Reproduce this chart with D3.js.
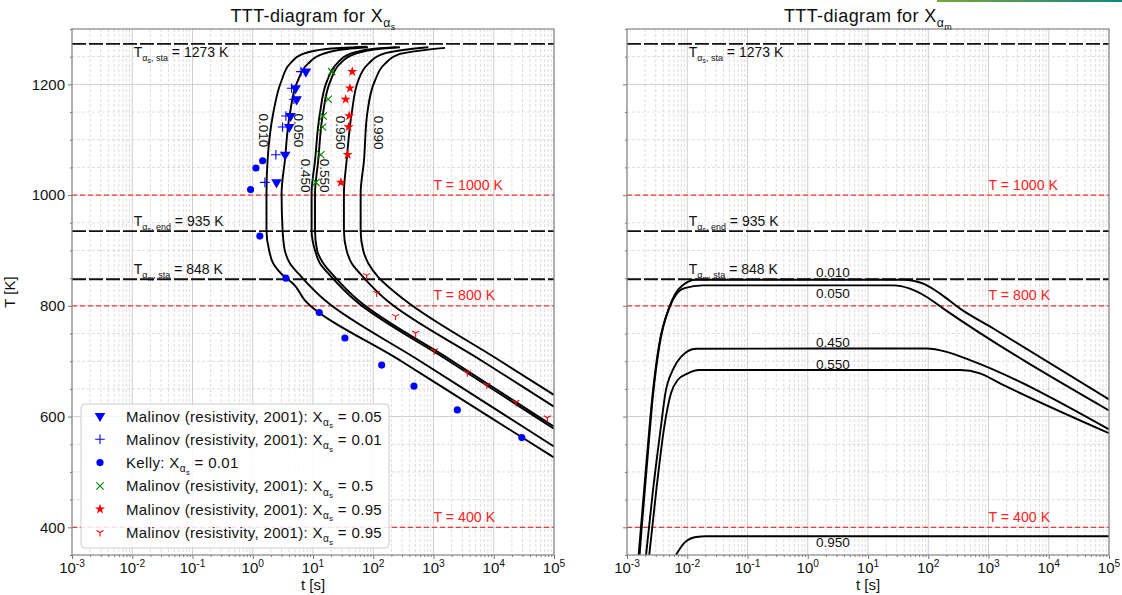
<!DOCTYPE html>
<html><head><meta charset="utf-8">
<script src="https://cdn.jsdelivr.net/npm/d3@7"></script>
<style>body{margin:0;background:#fff}text{font-family:"Liberation Sans",Arial,sans-serif}</style>
</head><body><svg id="c" width="1122" height="595"></svg>
<script>
// ---------- data ----------
const decades = [-3,-2,-1,0,1,2,3,4,5];
const tempTicks = [400,600,800,1000,1200];
const tempMinor = [350,450,500,550,650,700,750,850,900,950,1050,1100,1150,1250,1300];
const levelsLeft = ["0.010","0.050","0.450","0.550","0.950","0.990"];
// left panel curves: [t (s), T (K)]
const s010 = [[77.6,1268],[16.8,1264],[6.79,1255],[4.13,1237],[3.01,1207],[2.18,1147],[1.76,1062],[1.69,1003],[1.69,936],[1.87,900],[2.18,877],[3.41,852],[4.69,840],[7.33,810],[293,700],[8380,600],[1e5,526]];
const s050 = [[81.7,1267],[36.6,1264],[14.6,1255],[8.22,1237],[5.61,1207],[4.13,1147],[3.41,1062],[3.01,1003],[3.13,936],[3.41,900],[4.13,877],[6.47,852],[15.8,810],[605,700],[16700,600],[1e5,546]];
const s450 = [[245,1267],[98.9,1264],[41.0,1255],[24.7,1237],[17.2,1207],[13.0,1147],[10.8,1062],[9.48,1003],[9.48,936],[10.8,900],[13.0,877],[20.4,852],[49.7,810],[1828,700],[48600,600],[1e5,578]];
const s550 = [[278,1267],[121,1264],[49.7,1255],[28.0,1237],[19.6,1207],[14.6,1147],[12.2,1062],[10.8,1003],[10.8,936],[11.7,900],[14.8,877],[23.1,852],[56.4,810],[2080,700],[55300,600],[1e5,582]];
const s950 = [[820,1267],[311,1262],[145,1255],[82.6,1237],[56.4,1207],[43.8,1147],[36.1,1062],[32.6,1003],[32.6,936],[36.1,900],[43.8,877],[68.2,852],[167,810],[6520,700],[34400,650],[1e5,618]];
const s990 = [[1552,1266],[597,1261],[277,1255],[156,1237],[107,1207],[79.4,1147],[70.1,1062],[61.8,1003],[61.8,936],[68.2,900],[82.6,877],[121,852],[337,810],[13100,700],[69300,650],[1e5,639]];
const labelPosLeft = [[1.49,1117],[5.83,1117],[7.54,1035],[15.8,1035],[29.0,1113],[121,1113]];
// right panel curves
const levelsRight = ["0.010","0.050","0.450","0.550","0.950"];
const m010 = [[0.00156,350],[0.00171,402],[0.00212,522],[0.00267,642],[0.00344,732],[0.00504,798],[0.00634,822],[0.00839,837],[0.0140,847],[38.5,847],[82.8,840],[157,822],[337,795],[1202,759],[1e5,631]];
const m050 = [[0.00162,350],[0.00176,402],[0.00218,522],[0.00272,642],[0.00350,732],[0.00512,798],[0.00650,820],[0.00900,832],[0.0180,837],[26.3,837],[49.8,831],[94.2,816],[178,795],[1e5,611]];
const m450 = [[0.00207,350],[0.00267,462],[0.00366,582],[0.00433,642],[0.00573,684],[0.00787,708],[0.0140,722.5],[94.2,723],[202,717],[493,702],[1e5,577]];
const m550 = [[0.00234,350],[0.00303,462],[0.00416,582],[0.00537,642],[0.00693,666],[0.0102,678],[0.0158,684],[337,684],[723,678],[1552,660],[1e5,570]];
const m950 = [[0.0065,350],[0.00893,372],[0.0140,382.6],[0.0205,384],[1e5,384]];
const labelPosRight = [[2.62,861],[2.62,823],[2.62,733],[2.62,694],[2.62,372]];
// experimental points
const malinov005 = [[7.62,1223],[5.14,1193],[5.35,1173],[4.25,1143],[4.03,1123],[3.45,1073],[2.48,1023]];
const malinov001 = [[6.30,1223],[4.42,1193],[4.82,1173],[3.55,1143],[3.13,1123],[2.42,1073],[1.59,1023]];
const kelly001 = [[1.46,1062],[1.13,1049],[0.92,1010],[1.31,926],[3.55,850],[12.7,788],[33.9,742],[138,693],[474,655],[2483,612],[29200,562]];
const malinov05 = [[20.4,1223],[17.9,1173],[14.8,1143],[14.4,1123],[13.5,1073],[11.2,1023]];
const malinov095 = [[44.8,1223],[41.0,1193],[34.8,1173],[39.9,1143],[39.0,1123],[37.6,1073],[29.0,1023]];
const malinov095b = [[77.6,855],[114,823],[235,781],[506,751],[1030,719],[3640,679],[7660,657],[23200,626],[77600,598]];
const legendNames = ["Malinov (resistivity, 2001): X","Malinov (resistivity, 2001): X","Kelly: X","Malinov (resistivity, 2001): X","Malinov (resistivity, 2001): X","Malinov (resistivity, 2001): X"];
const legendValues = [" = 0.05"," = 0.01"," = 0.01"," = 0.5"," = 0.95"," = 0.95"];
// reference lines
const blackLines = [1273, 935, 848];
const blackLineSub = [["s",", sta"],["s",", end"],["m",", sta"]];
const blackLineVal = [" = 1273 K"," = 935 K"," = 848 K"];
const redLines = [1000, 800, 400];
const redLineText = ["T = 1000 K","T = 800 K","T = 400 K"];

// ---------- layout ----------
const svg = d3.select("#c");
svg.append("rect").attr("width",1122).attr("height",595).attr("fill","#fff");
const pTop = 29, pBottom = 555;
const y = d3.scaleLinear().domain([350,1300]).range([pBottom,pTop]);
const xL = d3.scaleLog().domain([1e-3,1e5]).range([72,554]);
const xR = d3.scaleLog().domain([1e-3,1e5]).range([627,1109]);

// decorative top-right bar
const defs = svg.append("defs");
const gr = defs.append("linearGradient").attr("id","gbar");
gr.append("stop").attr("offset","0").attr("stop-color","#7aa53a");
gr.append("stop").attr("offset","1").attr("stop-color","#0f8780");
svg.append("rect").attr("x",937).attr("y",0).attr("width",185).attr("height",2).attr("fill","url(#gbar)");

function rich(t, parts, base, subF){
  const f = subF || 0.68;
  const off = {0:0,1:0.28*base,2:0.45*base,"-1":-0.42*base};
  const sz = {0:base,1:base*f,2:base*0.5,"-1":base*0.68};
  let prev = 0;
  parts.forEach(([s,l])=>{
    t.append("tspan").attr("dy",(off[l]-off[prev]).toFixed(2)).attr("font-size",sz[l]).text(s);
    prev = l;
  });
  return t;
}

const minorT = [];
decades.slice(0,-1).forEach(d=>{ for(let k=2;k<10;k++) minorT.push(k*Math.pow(10,d)); });
const majorT = decades.map(d=>Math.pow(10,d));

function panel(x, id, titleSub, curves, levels, labelPos, rotateLabels, showY, curveType){
  const g = svg.append("g");
  const [x0,x1] = x.range();
  defs.append("clipPath").attr("id",id).append("rect").attr("x",x0).attr("y",pTop).attr("width",x1-x0).attr("height",pBottom-pTop);
  // grid
  g.selectAll(".gmx").data(minorT).join("line").attr("x1",d=>x(d)).attr("x2",d=>x(d)).attr("y1",pTop).attr("y2",pBottom)
    .attr("stroke","#d4d4d4").attr("stroke-width",0.8).attr("stroke-dasharray","3,2");
  g.selectAll(".gmy").data(tempMinor).join("line").attr("x1",x0).attr("x2",x1).attr("y1",d=>y(d)).attr("y2",d=>y(d))
    .attr("stroke","#d4d4d4").attr("stroke-width",0.8).attr("stroke-dasharray","3,2");
  g.selectAll(".gMx").data(majorT).join("line").attr("x1",d=>x(d)).attr("x2",d=>x(d)).attr("y1",pTop).attr("y2",pBottom)
    .attr("stroke","#cfcfcf").attr("stroke-width",1);
  g.selectAll(".gMy").data(tempTicks).join("line").attr("x1",x0).attr("x2",x1).attr("y1",d=>y(d)).attr("y2",d=>y(d))
    .attr("stroke","#cfcfcf").attr("stroke-width",1);
  // red lines
  g.selectAll(".rl").data(redLines).join("line").attr("x1",x0).attr("x2",x1).attr("y1",d=>y(d)).attr("y2",d=>y(d))
    .attr("stroke","#f23a3a").attr("stroke-width",1.3).attr("stroke-dasharray","5,3");
  g.selectAll(".rt").data(redLines).join("text").attr("x",x(1000)).attr("y",d=>y(d)-5.5)
    .attr("fill","#f22").attr("font-size",14.2).text((d,i)=>redLineText[i]);
  // black dashed lines
  g.selectAll(".bl").data(blackLines).join("line").attr("x1",x0).attr("x2",x1).attr("y1",d=>y(d)).attr("y2",d=>y(d))
    .attr("stroke","#111").attr("stroke-width",1.8).attr("stroke-dasharray","14,3");
  blackLines.forEach((v,i)=>{
    const t = g.append("text").attr("x",x(0.01)+1.5).attr("y",i===0? y(v)+13 : y(v)-5).attr("fill","#111").attr("font-size",14);
    rich(t,[["T",0],["α",1],[blackLineSub[i][0],2],[blackLineSub[i][1],1],[blackLineVal[i],0]],14,0.64);
  });
  // curves
  const line = d3.line().x(d=>x(d[0])).y(d=>y(d[1])).curve(curveType);
  const cg = g.append("g").attr("clip-path",`url(#${id})`);
  cg.selectAll("path").data(curves).join("path").attr("d",line).attr("fill","none").attr("stroke","#000").attr("stroke-width",1.9);
  // curve labels
  g.selectAll(".cl").data(labelPos).join("text")
    .attr("transform",d=> rotateLabels ? `translate(${x(d[0])},${y(d[1])}) rotate(90)` : `translate(${x(d[0])},${y(d[1])})`)
    .attr("text-anchor","middle").attr("dominant-baseline","central").attr("font-size",13.5).attr("fill","#111")
    .text((d,i)=>levels[i]);
  // axes ticks
  const ax = g.append("g").attr("transform",`translate(0,${pBottom})`);
  ax.call(d3.axisBottom(x).tickValues(majorT).tickSize(4).tickFormat(""));
  ax.append("g").call(d3.axisBottom(x).tickValues(minorT).tickSize(2).tickFormat(""));
  const ay = g.append("g").attr("transform",`translate(${x0},0)`);
  ay.call(d3.axisLeft(y).tickValues(tempTicks).tickSize(4).tickFormat(showY? d=>d : ""));
  ay.append("g").call(d3.axisLeft(y).tickValues(tempMinor).tickSize(2).tickFormat(""));
  g.selectAll(".domain").remove();
  g.selectAll(".tick line").attr("stroke","#777");
  ay.selectAll("text").attr("font-size",15).attr("font-family","Liberation Sans, Arial, sans-serif").attr("fill","#111");
  // x tick labels
  decades.forEach(d=>{
    const t = g.append("text").attr("x",x(Math.pow(10,d))).attr("y",pBottom+18).attr("text-anchor","middle").attr("font-size",15).attr("fill","#111");
    rich(t,[["10",0],[String(d),-1]],15);
  });
  g.append("text").attr("x",(x0+x1)/2).attr("y",590).attr("text-anchor","middle").attr("font-size",15).attr("fill","#111").text("t [s]");
  // frame
  g.append("rect").attr("x",x0).attr("y",pTop).attr("width",x1-x0).attr("height",pBottom-pTop).attr("fill","none").attr("stroke","#8a8a8a").attr("stroke-width",1.2);
  // title
  const tt = g.append("text").attr("x",(x0+x1)/2).attr("y",22).attr("text-anchor","middle").attr("font-size",18).attr("letter-spacing","0.4").attr("fill","#111");
  rich(tt,[["TTT-diagram for X",0],["α",1],[titleSub,2]],18);
  return g;
}

panel(xL,"clipL","s",[s010,s050,s450,s550,s950,s990],levelsLeft,labelPosLeft,true,true,d3.curveMonotoneY);
panel(xR,"clipR","m",[m010,m050,m450,m550,m950],levelsRight,labelPosRight,false,false,d3.curveMonotoneX);

svg.append("text").attr("transform",`translate(15,${(pTop+pBottom)/2}) rotate(-90)`).attr("text-anchor","middle").attr("font-size",15).attr("fill","#111").text("T [K]");

// markers
const triDown = d3.symbol().type(d3.symbolTriangle).size(48);
const circ = d3.symbol().type(d3.symbolCircle).size(40);
const star = d3.symbol().type(d3.symbolStar).size(32);
const plus = d3.symbol().type(d3.symbolPlus).size(32);
const times = d3.symbol().type(d3.symbolTimes).size(36);
const tri1 = "M0,0L0,4M0,0L-3.5,-2M0,0L3.5,-2";
const markerDefs = [
  {data:malinov005, path:triDown(), rot:180, fill:"#0000ff", stroke:"none"},
  {data:malinov001, path:plus(), rot:0, fill:"none", stroke:"#0000ff"},
  {data:kelly001, path:circ(), rot:0, fill:"#0000ff", stroke:"none"},
  {data:malinov05, path:times(), rot:0, fill:"none", stroke:"#008000"},
  {data:malinov095, path:star(), rot:0, fill:"#ff0000", stroke:"none"},
  {data:malinov095b, path:tri1, rot:0, fill:"none", stroke:"#ff0000"}
];
const mg = svg.append("g").attr("clip-path","url(#clipL)");
markerDefs.forEach(m=>{
  mg.selectAll(null).data(m.data).join("path").attr("d",m.path)
    .attr("transform",d=>`translate(${xL(d[0])},${y(d[1])}) rotate(${m.rot})`)
    .attr("fill",m.fill).attr("stroke",m.stroke).attr("stroke-width",1.1);
});

// legend
const lg = svg.append("g");
lg.append("rect").attr("x",81).attr("y",404).attr("width",308).attr("height",144).attr("rx",4)
  .attr("fill","#fff").attr("fill-opacity",0.85).attr("stroke","#cccccc").attr("stroke-width",1);
markerDefs.forEach((m,i)=>{
  const cy = 416 + i*23.3;
  lg.append("path").attr("d",m.path).attr("transform",`translate(100,${cy}) rotate(${m.rot})`)
    .attr("fill",m.fill).attr("stroke",m.stroke).attr("stroke-width",1.1);
  const t = lg.append("text").attr("x",126).attr("y",cy+5.5).attr("font-size",15).attr("letter-spacing","0.35").attr("fill","#111");
  rich(t,[[legendNames[i],0],["α",1],["s",2],[legendValues[i],0]],15);
});
</script></body></html>
